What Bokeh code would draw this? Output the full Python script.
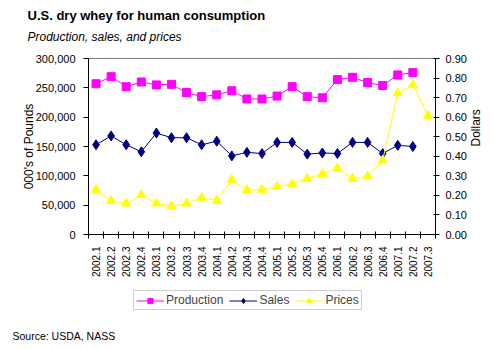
import math
from bokeh.plotting import figure
from bokeh.layouts import column
from bokeh.models import (Range1d, LinearAxis, FixedTicker, NumeralTickFormatter,
                          Legend, LegendItem, Title)
from bokeh.embed import file_html
from bokeh.resources import INLINE

quarters = ["2002.1", "2002.2", "2002.3", "2002.4", "2003.1", "2003.2", "2003.3", "2003.4",
            "2004.1", "2004.2", "2004.3", "2004.4", "2005.1", "2005.2", "2005.3", "2005.4",
            "2006.1", "2006.2", "2006.3", "2006.4", "2007.1", "2007.2", "2007.3"]
production = [257000, 269000, 252000, 260000, 255000, 256000, 242000, 235000,
              238000, 245000, 231000, 231000, 236000, 252000, 235000, 233000,
              264000, 268000, 259000, 254000, 272000, 276000, float("nan")]
sales = [153000, 168000, 153000, 141000, 173000, 165000, 165000, 153000,
         159000, 134000, 140000, 138000, 157000, 157000, 137000, 139000,
         138000, 157000, 157000, 138000, 152000, 150000, float("nan")]
prices = [0.229, 0.172, 0.159, 0.203, 0.159, 0.145, 0.159, 0.188,
          0.174, 0.280, 0.227, 0.229, 0.245, 0.259, 0.285, 0.310,
          0.339, 0.285, 0.297, 0.380, 0.723, 0.764, 0.607]
series_names = ["Production", "Sales", "Prices"]
series_colors = ["#FF00FF", "#000080", "#FFFF00"]
series_markers = ["square", "diamond", "triangle"]
series_sizes = [8, 10, 9]

FONT = "Liberation Sans"
L, R = 88, 59

# ---- chart
xs = [i + 0.5 for i in range(len(quarters))]
p = figure(frame_width=347, frame_height=176, output_backend="svg", toolbar_location=None,
           x_range=Range1d(0, len(quarters)), y_range=Range1d(0, 300000),
           min_border_left=L, min_border_right=R, min_border_top=58, min_border_bottom=46,
           x_axis_type=None, y_axis_type=None)
p.background_fill_color = "white"
p.border_fill_color = "white"
p.outline_line_color = "#808080"
p.grid.visible = False
p.extra_y_ranges = {"price": Range1d(0, 0.9)}

xax = LinearAxis(ticker=FixedTicker(ticks=xs, minor_ticks=list(range(len(quarters) + 1))))
xax.major_label_overrides = {x: q for x, q in zip(xs, quarters)}
xax.major_label_orientation = math.pi / 2
xax.major_tick_in = 0
xax.major_tick_out = 0
xax.minor_tick_in = 3
xax.minor_tick_out = 4
xax.major_label_standoff = 8
xax.major_label_text_font = FONT
xax.major_label_text_font_size = "10px"
xax.major_label_text_color = "black"
xax.axis_line_color = "black"
xax.minor_tick_line_color = "black"
p.add_layout(xax, "below")

lax = LinearAxis(ticker=FixedTicker(ticks=list(range(0, 300001, 50000))),
                 formatter=NumeralTickFormatter(format="0,0"),
                 axis_label="000's of Pounds")
lax.major_tick_in = 0
lax.major_tick_out = 5
lax.minor_tick_line_color = None
lax.major_label_text_font = FONT
lax.major_label_text_font_size = "11px"
lax.major_label_text_color = "black"
lax.major_label_standoff = 8
lax.axis_line_color = "black"
lax.major_tick_line_color = "black"
lax.axis_label_text_font = FONT
lax.axis_label_text_font_size = "12px"
lax.axis_label_text_font_style = "normal"
lax.axis_label_text_color = "black"
lax.axis_label_standoff = -3
p.add_layout(lax, "left")

rax = LinearAxis(y_range_name="price", ticker=FixedTicker(ticks=[i / 10 for i in range(10)]),
                 formatter=NumeralTickFormatter(format="0.00"), axis_label="Dollars")
rax.major_tick_in = 2
rax.major_tick_out = 4
rax.minor_tick_line_color = None
rax.major_label_text_font = FONT
rax.major_label_text_font_size = "11px"
rax.major_label_text_color = "black"
rax.major_label_standoff = 6
rax.axis_line_color = "black"
rax.major_tick_line_color = "black"
rax.axis_label_text_font = FONT
rax.axis_label_text_font_size = "12px"
rax.axis_label_text_font_style = "normal"
rax.axis_label_text_color = "black"
rax.axis_label_standoff = 6
try:
    rax.axis_label_orientation = math.pi / 2
except AttributeError:
    pass
p.add_layout(rax, "right")

values = [production, sales, prices]
for vals, c, m, s, name in zip(values, series_colors, series_markers, series_sizes, series_names):
    kw = {"y_range_name": "price"} if name == "Prices" else {}
    p.line(xs, vals, line_color=c, line_width=1, **kw)
    p.scatter(xs, vals, marker=m, size=s, fill_color=c, line_color=c, **kw)

# header: spacer (closest to frame), subtitle, title
spacer = Title(text=" ", align="left", standoff=8, text_font=FONT, text_font_size="1px")
p.add_layout(spacer, "above")
sub = Title(text="Production, sales, and prices", align="left", offset=27 - L,
            standoff=7, text_font=FONT, text_font_size="12px",
            text_font_style="italic", text_color="black")
p.add_layout(sub, "above")
ttl = Title(text="U.S. dry whey for human consumption", align="left", offset=27 - L,
            standoff=4, text_font=FONT, text_font_size="13px",
            text_font_style="bold", text_color="black")
p.add_layout(ttl, "above")

# ---- footer with legend and source (frame aligned with the chart's frame)
p2 = figure(frame_width=347, frame_height=41, output_backend="svg", toolbar_location=None,
            x_range=Range1d(0, 1), y_range=Range1d(-2, -1),
            min_border_left=L, min_border_right=R, min_border_top=0, min_border_bottom=28,
            x_axis_type=None, y_axis_type=None)
p2.grid.visible = False
p2.outline_line_color = None
p2.background_fill_color = "white"
p2.border_fill_color = "white"
items = []
for vals, c, m, s, name in zip(values, series_colors, series_markers, series_sizes, series_names):
    # stand-in renderers (outside the footer's visible range) so the legend can draw the glyphs
    r1 = p2.line(xs[:1], vals[:1], line_color=c, line_width=1)
    r2 = p2.scatter(xs[:1], vals[:1], marker=m, size=s, fill_color=c, line_color=c)
    items.append(LegendItem(label=name, renderers=[r1, r2]))
legend = Legend(items=items, orientation="horizontal", location=(45, 11),
                label_text_font=FONT, label_text_font_size="12px",
                glyph_width=28, glyph_height=13, label_height=13, label_standoff=2,
                spacing=6, padding=2, margin=0, border_line_color="#A0A0A0",
                border_line_width=1, background_fill_color="white")
p2.add_layout(legend, "center")
src = Title(text="Source: USDA, NASS", align="left", offset=12 - L, vertical_align="middle",
            standoff=15, text_font=FONT, text_font_size="10.5px", text_font_style="normal",
            text_color="black")
p2.add_layout(src, "below")

open("out.html", "w").write(file_html(column(p, p2, spacing=0), INLINE))
